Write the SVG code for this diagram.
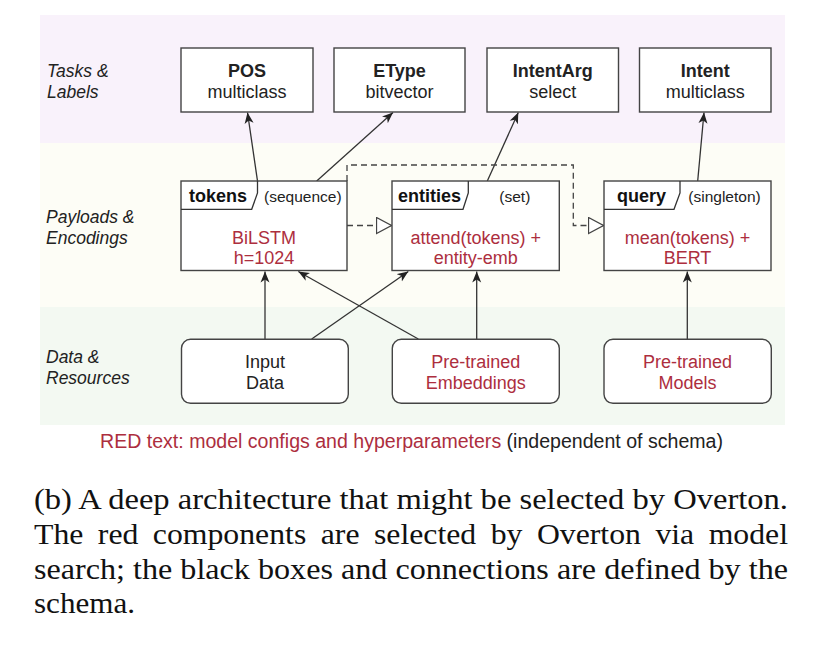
<svg xmlns="http://www.w3.org/2000/svg" width="839" height="645" viewBox="0 0 839 645">
<style>
.box{fill:#fff;stroke:#444;stroke-width:1.4}
.t{font-family:"Liberation Sans",Arial,sans-serif;font-size:18px;fill:#222;text-anchor:middle}
.b{font-weight:bold}
.r{fill:#ad2e3e}
.h{font-family:"Liberation Sans",Arial,sans-serif;font-size:18px;font-weight:bold;fill:#111}
.p{font-family:"Liberation Sans",Arial,sans-serif;font-size:15.5px;fill:#222}
.lab{font-family:"Liberation Sans",Arial,sans-serif;font-size:17.5px;font-style:italic;fill:#222}
.e{fill:none;stroke:#333;stroke-width:1.3}
.d{fill:none;stroke:#444;stroke-width:1.3;stroke-dasharray:6 4}
.cap{font-family:"Liberation Serif","Times New Roman",serif;font-size:29px;fill:#111}
</style>
<defs>
<marker id="arr" markerWidth="12" markerHeight="10" refX="11" refY="5" orient="auto" markerUnits="userSpaceOnUse">
<path d="M0,0.5 L11,5 L0,9.5 L3,5 z" fill="#222"/>
</marker>
<marker id="tri" markerWidth="17" markerHeight="18" refX="16" refY="9" orient="auto" markerUnits="userSpaceOnUse">
<path d="M1,1 L16,9 L1,17 z" fill="#fff" stroke="#444" stroke-width="1.3"/>
</marker>
</defs>
<rect x="0" y="0" width="839" height="645" fill="#fff"/>
<g id="bands">
<rect x="40" y="15" width="745" height="128" fill="#f9f2fb"/>
<rect x="40" y="143" width="745" height="164" fill="#fdfdf6"/>
<rect x="40" y="307" width="745" height="118" fill="#f3f9f2"/>
<text class="lab" x="47" y="77">Tasks &amp;</text>
<text class="lab" x="47" y="98">Labels</text>
<text class="lab" x="46" y="223">Payloads &amp;</text>
<text class="lab" x="46" y="244">Encodings</text>
<text class="lab" x="46" y="363">Data &amp;</text>
<text class="lab" x="46" y="384">Resources</text>
</g>
<g id="connectors">
<line class="e" x1="257.5" y1="181" x2="247.5" y2="112.5" marker-end="url(#arr)"/>
<line class="e" x1="316.7" y1="181" x2="393" y2="112.5" marker-end="url(#arr)"/>
<line class="e" x1="487.3" y1="181" x2="518.3" y2="112.5" marker-end="url(#arr)"/>
<line class="e" x1="697.7" y1="181" x2="704" y2="112.5" marker-end="url(#arr)"/>
<line class="e" x1="265" y1="339" x2="265" y2="271.5" marker-end="url(#arr)"/>
<line class="e" x1="311.7" y1="339" x2="408.3" y2="271.5" marker-end="url(#arr)"/>
<line class="e" x1="418.3" y1="339" x2="298.3" y2="271.5" marker-end="url(#arr)"/>
<line class="e" x1="476.7" y1="339" x2="476.7" y2="271.5" marker-end="url(#arr)"/>
<line class="e" x1="687.3" y1="339" x2="687.3" y2="271.5" marker-end="url(#arr)"/>
<path class="d" d="M347,225.5 L391.5,225.5" marker-end="url(#tri)"/>
<path class="d" d="M347,181 L347,165 L573.3,165 L573.3,225.5 L603.5,225.5" marker-end="url(#tri)"/>
</g>
<g id="pos">
<rect class="box" x="181" y="48" width="132" height="64"/>
<text class="t b" x="247" y="77">POS</text>
<text class="t" x="247" y="97.5">multiclass</text>
</g>
<g id="etype">
<rect class="box" x="334" y="48" width="131" height="64"/>
<text class="t b" x="399.5" y="77">EType</text>
<text class="t" x="399.5" y="97.5">bitvector</text>
</g>
<g id="intentarg">
<rect class="box" x="487" y="48" width="131.5" height="64"/>
<text class="t b" x="552.7" y="77">IntentArg</text>
<text class="t" x="552.7" y="97.5">select</text>
</g>
<g id="intent">
<rect class="box" x="639.5" y="48" width="131.5" height="64"/>
<text class="t b" x="705.2" y="77">Intent</text>
<text class="t" x="705.2" y="97.5">multiclass</text>
</g>
<g id="tokens">
<rect class="box" x="181" y="181" width="166" height="89.5"/>
<path class="e" d="M181,209.3 L251.7,209.3 L257.5,193 L257.5,181"/>
<text class="h" x="189" y="202">tokens</text>
<text class="p" x="264" y="202">(sequence)</text>
<text class="t r" x="264" y="243.5">BiLSTM</text>
<text class="t r" x="264" y="264">h=1024</text>
</g>
<g id="entities">
<rect class="box" x="392" y="181" width="167.3" height="89.5"/>
<path class="e" d="M392,209.3 L463,209.3 L468.3,193 L468.3,181"/>
<text class="h" x="398" y="202">entities</text>
<text class="p" x="499.3" y="202">(set)</text>
<text class="t r" x="475.7" y="243.5">attend(tokens) +</text>
<text class="t r" x="475.7" y="264">entity-emb</text>
</g>
<g id="query">
<rect class="box" x="604" y="181" width="167" height="89.5"/>
<path class="e" d="M604,209.3 L674,209.3 L680,193 L680,181"/>
<text class="h" x="617" y="202">query</text>
<text class="p" x="688.3" y="202">(singleton)</text>
<text class="t r" x="687.5" y="243.5">mean(tokens) +</text>
<text class="t r" x="687.5" y="264">BERT</text>
</g>
<g id="inputdata">
<rect class="box" x="181.5" y="339.3" width="166.8" height="64" rx="9"/>
<text class="t" x="265" y="368">Input</text>
<text class="t" x="265" y="389">Data</text>
</g>
<g id="embeddings">
<rect class="box" x="392.3" y="339.3" width="167" height="64" rx="9"/>
<text class="t r" x="475.8" y="368">Pre-trained</text>
<text class="t r" x="475.8" y="389">Embeddings</text>
</g>
<g id="models">
<rect class="box" x="604" y="339.3" width="167.3" height="64" rx="9"/>
<text class="t r" x="687.6" y="368">Pre-trained</text>
<text class="t r" x="687.6" y="389">Models</text>
</g>
<g id="legend">
<text x="100" y="448" font-family="'Liberation Sans',Arial,sans-serif" font-size="19.5" fill="#222" textLength="623" lengthAdjust="spacingAndGlyphs"><tspan fill="#ad2e3e">RED text: model configs and hyperparameters</tspan> (independent of schema)</text>
</g>
<g id="caption">
<text class="cap" x="34" y="509" textLength="754" lengthAdjust="spacingAndGlyphs">(b) A deep architecture that might be selected by Overton.</text>
<text class="cap" x="34" y="544" word-spacing="6" textLength="754" lengthAdjust="spacingAndGlyphs">The red components are selected by Overton via model</text>
<text class="cap" x="34" y="579" textLength="754" lengthAdjust="spacingAndGlyphs">search; the black boxes and connections are defined by the</text>
<text class="cap" x="34" y="613" textLength="101" lengthAdjust="spacingAndGlyphs">schema.</text>
</g>
</svg>
